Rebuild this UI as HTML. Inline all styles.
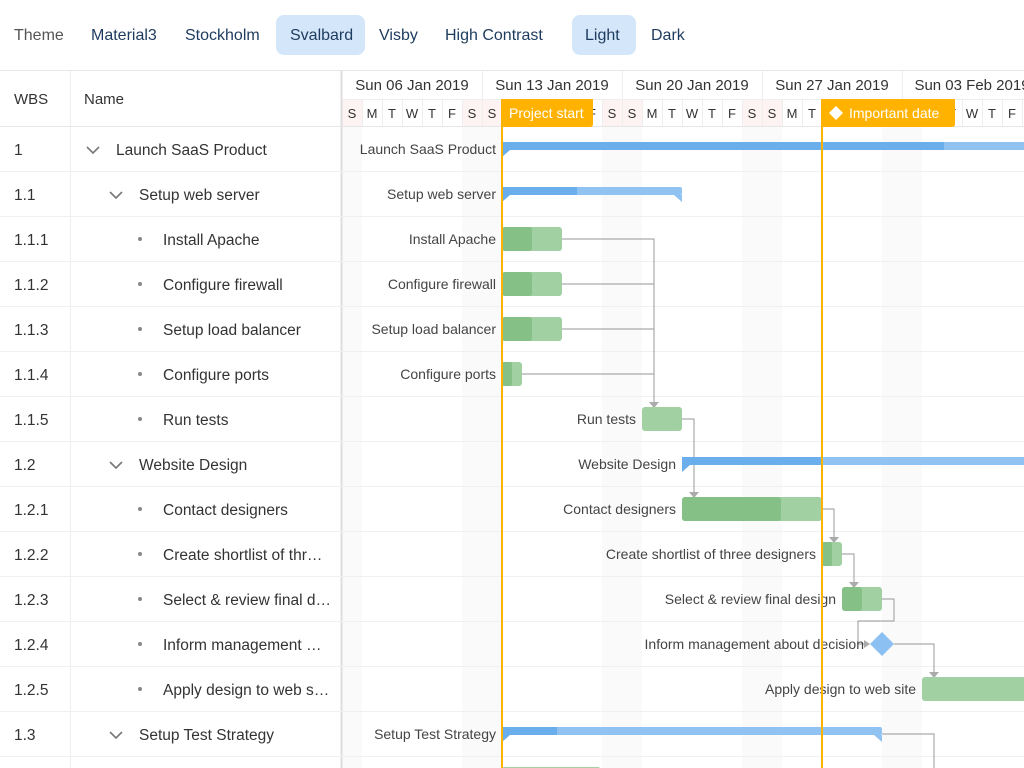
<!DOCTYPE html>
<html><head><meta charset="utf-8"><style>
html,body{margin:0;padding:0;background:#fff;width:1024px;height:768px;overflow:hidden}
svg{display:block}
text{font-family:"Liberation Sans",sans-serif}
</style></head><body>
<svg width="1024" height="768" xmlns="http://www.w3.org/2000/svg">
<rect x="276" y="15" width="89" height="40" rx="8" fill="#d4e6f9"/>
<rect x="572" y="15" width="64" height="40" rx="8" fill="#d4e6f9"/>
<g font-size="16" fill="#1d3b5e">
<text x="14" y="40" fill="#555">Theme</text>
<text x="91" y="40">Material3</text>
<text x="185" y="40">Stockholm</text>
<text x="290" y="40">Svalbard</text>
<text x="379" y="40">Visby</text>
<text x="445" y="40">High Contrast</text>
<text x="585" y="40">Light</text>
<text x="651" y="40">Dark</text>
</g>
<line x1="0" y1="70.5" x2="1024" y2="70.5" stroke="#e6e6e6"/>
<g fill="#fafafa">
<rect x="342" y="127" width="20" height="641"/>
<rect x="462" y="127" width="40" height="641"/>
<rect x="602" y="127" width="40" height="641"/>
<rect x="742" y="127" width="40" height="641"/>
<rect x="882" y="127" width="40" height="641"/>
</g>
<g fill="#fdf3f3">
<rect x="342" y="99" width="20" height="28"/>
<rect x="462" y="99" width="40" height="28"/>
<rect x="602" y="99" width="40" height="28"/>
<rect x="742" y="99" width="40" height="28"/>
<rect x="882" y="99" width="40" height="28"/>
</g>
<g font-size="15" fill="#333">
<text x="14" y="104">WBS</text>
<text x="84" y="104">Name</text>
</g>
<line x1="70.5" y1="71" x2="70.5" y2="768" stroke="#eee"/>
<line x1="341.5" y1="71" x2="341.5" y2="768" stroke="#ddd" stroke-width="2"/>
<line x1="342" y1="99.5" x2="1024" y2="99.5" stroke="#eee"/>
<g stroke="#eee">
<line x1="482.5" y1="71" x2="482.5" y2="99"/><line x1="622.5" y1="71" x2="622.5" y2="99"/>
<line x1="762.5" y1="71" x2="762.5" y2="99"/><line x1="902.5" y1="71" x2="902.5" y2="99"/>
</g>
<g font-size="15" fill="#333" text-anchor="middle">
<text x="412" y="90">Sun 06 Jan 2019</text>
<text x="552" y="90">Sun 13 Jan 2019</text>
<text x="692" y="90">Sun 20 Jan 2019</text>
<text x="832" y="90">Sun 27 Jan 2019</text>
<text x="972" y="90">Sun 03 Feb 2019</text>
</g>
<g stroke="#eee" id="dl"></g>
<g font-size="13" fill="#333" text-anchor="middle" id="days"></g>
<g stroke="#f0f0f0" id="rl"></g>
<line x1="0" y1="126.5" x2="1024" y2="126.5" stroke="#e6e6e6"/>
<g font-size="15.5" fill="#333">
<text x="14" y="155">1</text><text x="14" y="200">1.1</text><text x="14" y="245">1.1.1</text>
<text x="14" y="290">1.1.2</text><text x="14" y="335">1.1.3</text><text x="14" y="380">1.1.4</text>
<text x="14" y="425">1.1.5</text><text x="14" y="470">1.2</text><text x="14" y="515">1.2.1</text>
<text x="14" y="560">1.2.2</text><text x="14" y="605">1.2.3</text><text x="14" y="650">1.2.4</text>
<text x="14" y="695">1.2.5</text><text x="14" y="740">1.3</text>
<text x="116" y="155">Launch SaaS Product</text>
<text x="139" y="200">Setup web server</text>
<text x="163" y="245">Install Apache</text>
<text x="163" y="290">Configure firewall</text>
<text x="163" y="335">Setup load balancer</text>
<text x="163" y="380">Configure ports</text>
<text x="163" y="425">Run tests</text>
<text x="139" y="470">Website Design</text>
<text x="163" y="515">Contact designers</text>
<text x="163" y="560">Create shortlist of thr…</text>
<text x="163" y="605">Select &amp; review final d…</text>
<text x="163" y="650">Inform management …</text>
<text x="163" y="695">Apply design to web s…</text>
<text x="139" y="740">Setup Test Strategy</text>
</g>
<g fill="none" stroke="#777" stroke-width="1.6">
<polyline points="87,147 93,153 99,147"/>
<polyline points="110,192 116,198 122,192"/>
<polyline points="110,462 116,468 122,462"/>
<polyline points="110,732 116,738 122,732"/>
</g>
<g fill="#888">
<circle cx="140" cy="239" r="2"/><circle cx="140" cy="284" r="2"/><circle cx="140" cy="329" r="2"/>
<circle cx="140" cy="374" r="2"/><circle cx="140" cy="419" r="2"/><circle cx="140" cy="509" r="2"/>
<circle cx="140" cy="554" r="2"/><circle cx="140" cy="599" r="2"/><circle cx="140" cy="644" r="2"/>
<circle cx="140" cy="689" r="2"/>
</g>
<g fill="none" stroke="#aaa" stroke-width="1.2" stroke-linejoin="round">
<polyline points="562,239 654,239 654,402"/>
<polyline points="562,284 654,284"/>
<polyline points="562,329 654,329"/>
<polyline points="522,374 654,374"/>
<polyline points="682,419 694,419 694,492"/>
<polyline points="822,509 834,509 834,537"/>
<polyline points="842,554 854,554 854,582"/>
<polyline points="882,599 894,599 894,621 858,621 858,644 864,644"/>
<polyline points="894,644 934,644 934,672"/>
<polyline points="882,734 934,734 934,768"/>
</g>
<g fill="#aaa">
<polygon points="649,402 659,402 654,408"/>
<polygon points="689,492 699,492 694,498"/>
<polygon points="829,537 839,537 834,543"/>
<polygon points="849,582 859,582 854,588"/>
<polygon points="864,640 864,648 870,644"/>
<polygon points="929,672 939,672 934,678"/>
</g>
<g font-size="14" fill="#444" text-anchor="end">
<text x="496" y="154">Launch SaaS Product</text>
<text x="496" y="199">Setup web server</text>
<text x="496" y="244">Install Apache</text>
<text x="496" y="289">Configure firewall</text>
<text x="496" y="334">Setup load balancer</text>
<text x="496" y="379">Configure ports</text>
<text x="636" y="424">Run tests</text>
<text x="676" y="469">Website Design</text>
<text x="676" y="514">Contact designers</text>
<text x="816" y="559">Create shortlist of three designers</text>
<text x="836" y="604">Select &amp; review final design</text>
<text x="864" y="649">Inform management about decision</text>
<text x="916" y="694">Apply design to web site</text>
<text x="496" y="739">Setup Test Strategy</text>
</g>
<g>
<rect x="502" y="142" width="522" height="8" fill="#90c2f2"/><rect x="502" y="142" width="442" height="8" fill="#6aaeeb"/>
<polygon points="502,150 510,150 502,157" fill="#6aaeeb"/>
<rect x="502" y="187" width="180" height="8" rx="2" fill="#90c2f2"/><rect x="502" y="187" width="75" height="8" fill="#6aaeeb"/>
<polygon points="502,195 510,195 502,202" fill="#6aaeeb"/><polygon points="682,195 674,195 682,202" fill="#90c2f2"/>
<rect x="682" y="457" width="342" height="8" fill="#90c2f2"/><rect x="682" y="457" width="141" height="8" fill="#6aaeeb"/>
<polygon points="682,465 690,465 682,472" fill="#6aaeeb"/>
<rect x="502" y="727" width="380" height="8" rx="2" fill="#90c2f2"/><rect x="502" y="727" width="55" height="8" fill="#6aaeeb"/>
<polygon points="502,735 510,735 502,742" fill="#6aaeeb"/><polygon points="882,735 874,735 882,742" fill="#90c2f2"/>
</g>
<g>
<rect x="502" y="227" width="60" height="24" rx="3" fill="#a1d0a3"/><rect x="502" y="227" width="30" height="24" rx="3" fill="#85c187"/>
<rect x="502" y="272" width="60" height="24" rx="3" fill="#a1d0a3"/><rect x="502" y="272" width="30" height="24" rx="3" fill="#85c187"/>
<rect x="502" y="317" width="60" height="24" rx="3" fill="#a1d0a3"/><rect x="502" y="317" width="30" height="24" rx="3" fill="#85c187"/>
<rect x="502" y="362" width="20" height="24" rx="3" fill="#a1d0a3"/><rect x="502" y="362" width="10" height="24" rx="2" fill="#85c187"/>
<rect x="642" y="407" width="40" height="24" rx="3" fill="#a1d0a3"/>
<rect x="682" y="497" width="140" height="24" rx="3" fill="#a1d0a3"/><rect x="682" y="497" width="99" height="24" rx="3" fill="#85c187"/>
<rect x="822" y="542" width="20" height="24" rx="3" fill="#a1d0a3"/><rect x="822" y="542" width="10" height="24" rx="2" fill="#85c187"/>
<rect x="842" y="587" width="40" height="24" rx="3" fill="#a1d0a3"/><rect x="842" y="587" width="20" height="24" rx="3" fill="#85c187"/>
<rect x="922" y="677" width="110" height="24" rx="3" fill="#a1d0a3"/>
<rect x="502" y="767" width="98" height="10" rx="2" fill="#a1d0a3"/>
<polygon points="882,632 894,644 882,656 870,644" fill="#8cc0f2"/>
</g>
<line x1="502" y1="99" x2="502" y2="768" stroke="#ffb300" stroke-width="2"/>
<line x1="822" y1="99" x2="822" y2="768" stroke="#ffb300" stroke-width="2"/>
<path d="M501,99 H593 V124 Q593,127 590,127 H501 Z" fill="#ffb300"/>
<text x="509" y="118" font-size="14" fill="#fff">Project start</text>
<path d="M821,99 H955 V124 Q955,127 952,127 H821 Z" fill="#ffb300"/>
<polygon points="836,106 843,113 836,120 829,113" fill="#fff"/>
<text x="849" y="118" font-size="14" fill="#fff">Important date</text>
</svg>
<script>
var ns="http://www.w3.org/2000/svg",L="SMTWTFS";
var d=document.getElementById("days"),dl=document.getElementById("dl"),rl=document.getElementById("rl");
for(var i=0;i<35;i++){var x=342+20*i;
 var l=document.createElementNS(ns,"line");l.setAttribute("x1",x+20.5);l.setAttribute("x2",x+20.5);l.setAttribute("y1",99);l.setAttribute("y2",127);dl.appendChild(l);
 var t=document.createElementNS(ns,"text");t.setAttribute("x",x+10);t.setAttribute("y",118);t.textContent=L[i%7];d.appendChild(t);}
for(var r=0;r<14;r++){var y=171.5+45*r;var l=document.createElementNS(ns,"line");l.setAttribute("x1",0);l.setAttribute("x2",1024);l.setAttribute("y1",y);l.setAttribute("y2",y);rl.appendChild(l);}
</script>
</body></html>
